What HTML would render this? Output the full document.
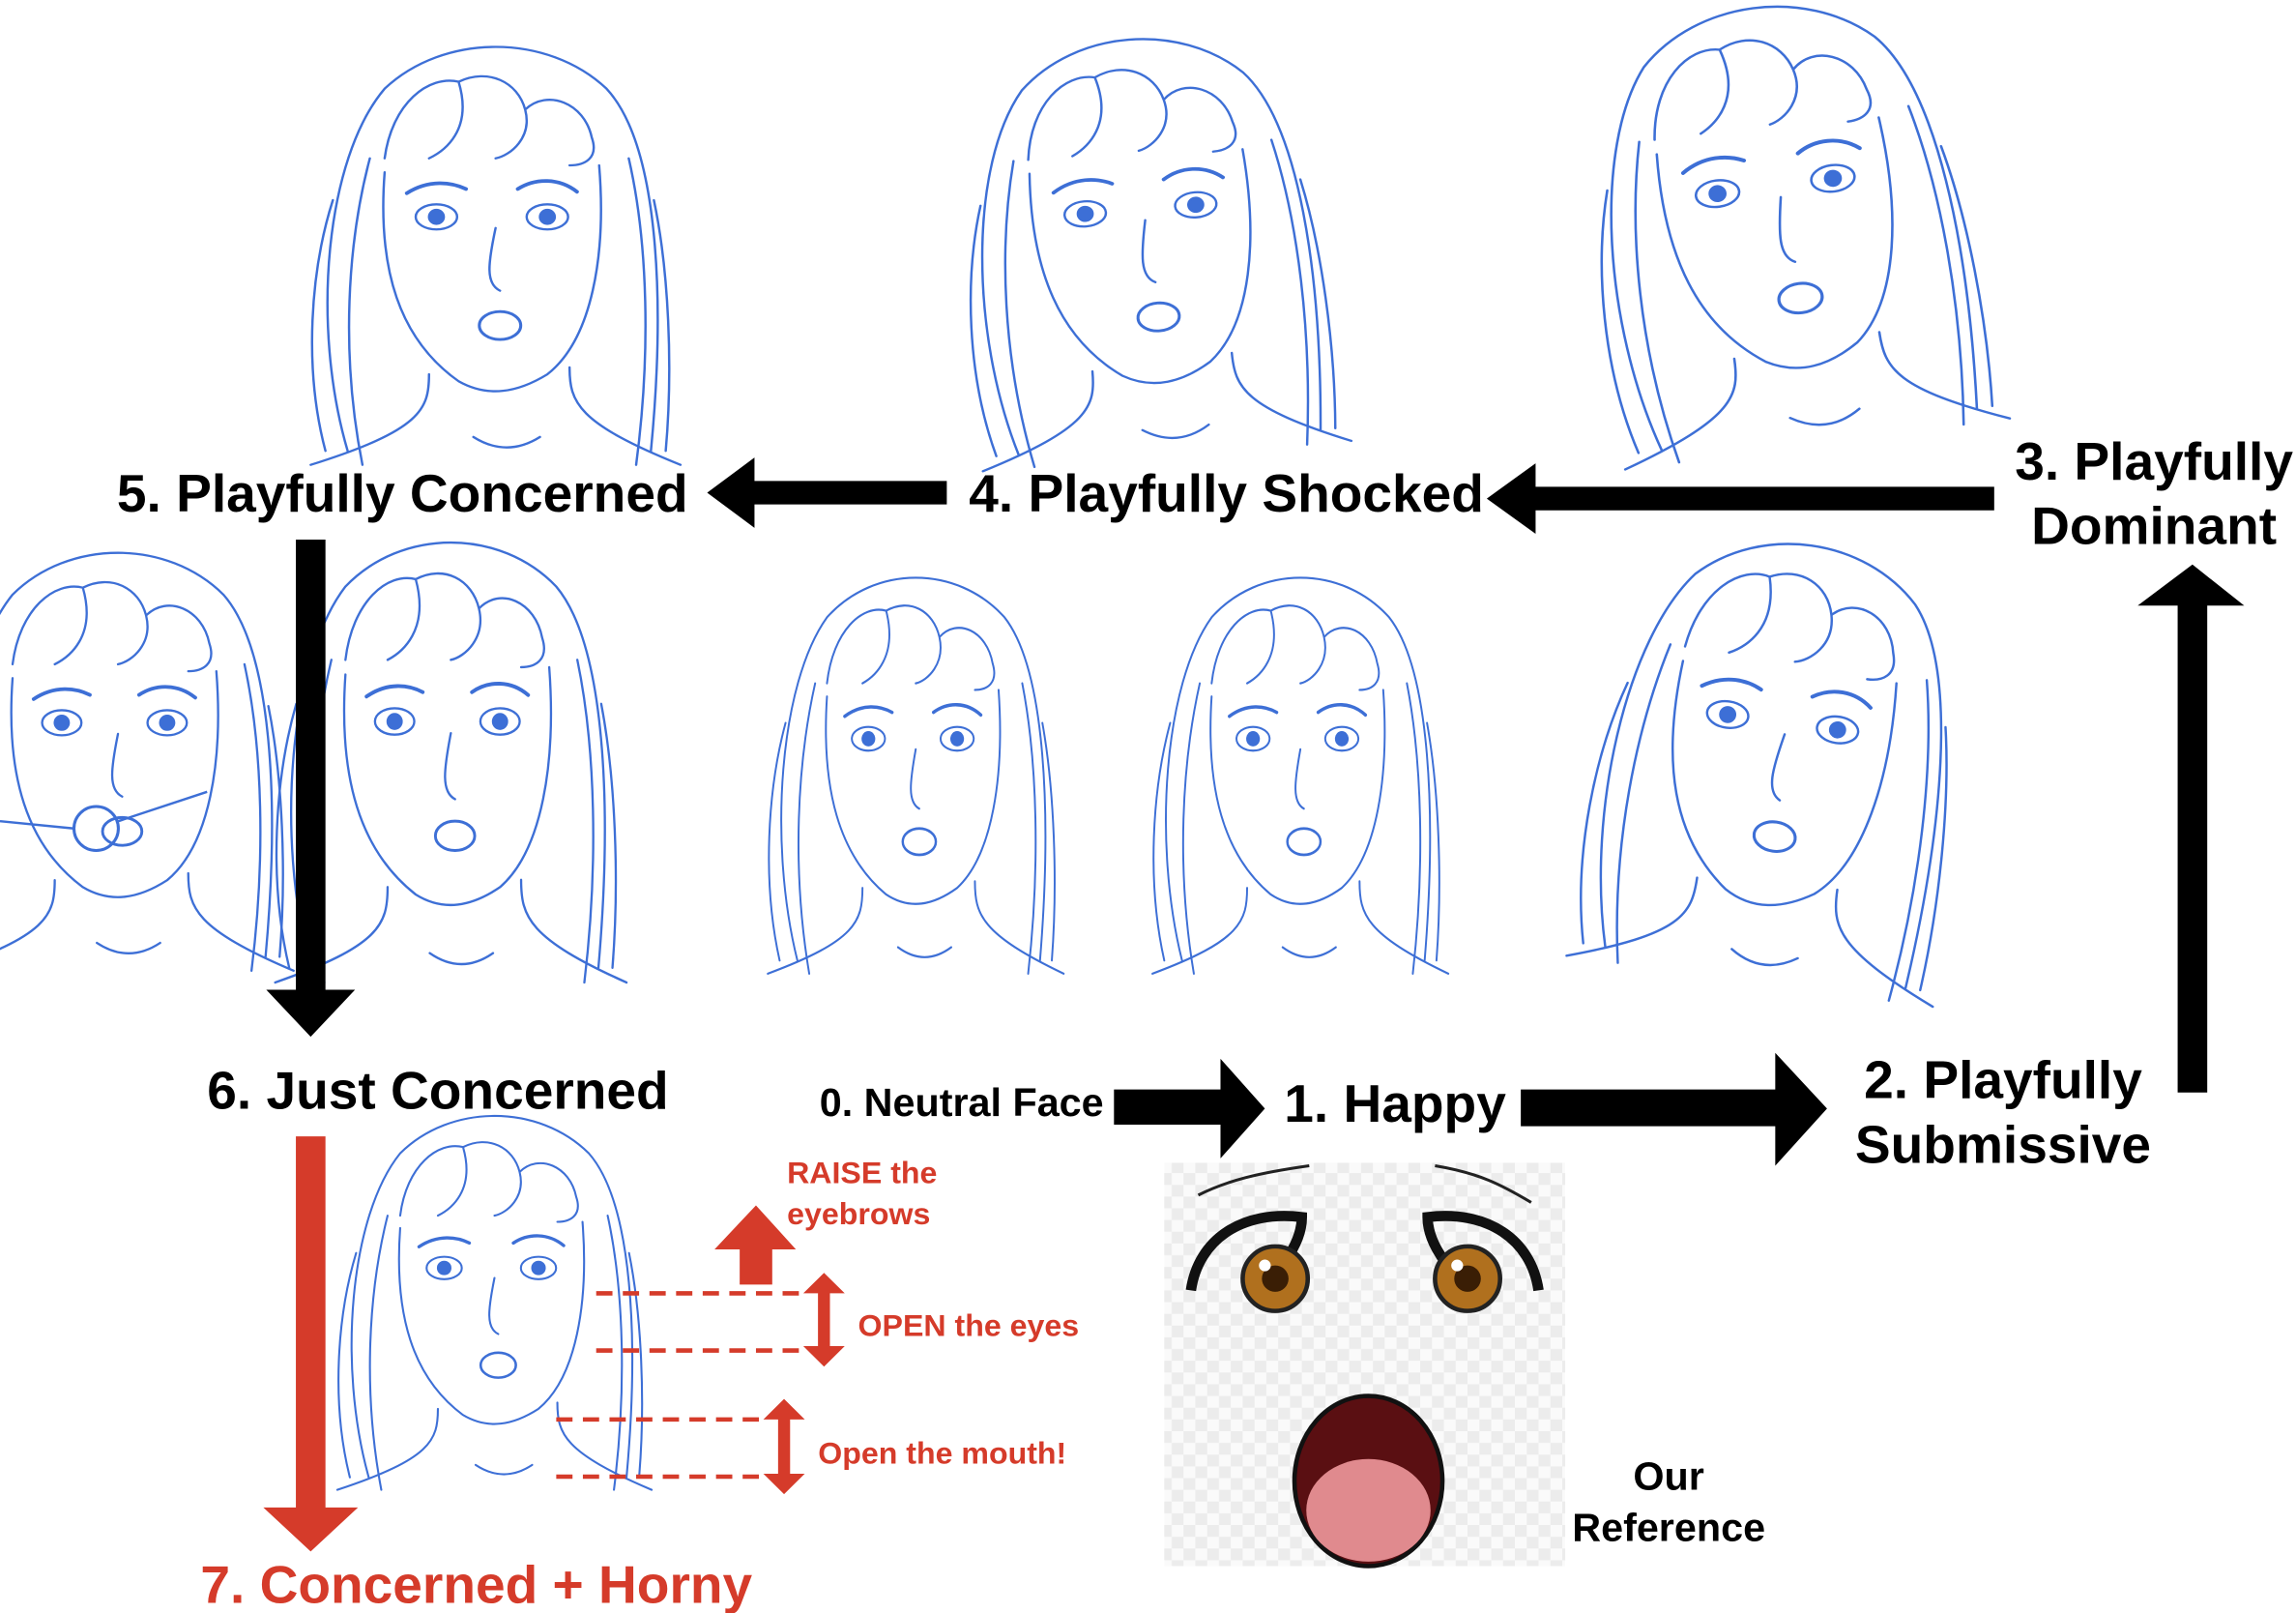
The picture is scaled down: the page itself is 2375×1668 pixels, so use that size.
<!DOCTYPE html>
<html><head><meta charset="utf-8"><style>
html,body{margin:0;padding:0;background:#fff;}
svg{display:block}
text{font-family:"Liberation Sans",Arial,sans-serif;font-weight:bold;}
</style></head><body>
<svg width="2375" height="1668" viewBox="0 0 1552 1100" preserveAspectRatio="none" xmlns="http://www.w3.org/2000/svg">
<defs>
<pattern id="chk" width="16" height="16" patternUnits="userSpaceOnUse">
<rect width="16" height="16" fill="#fafafa"/><rect width="8" height="8" fill="#ececec"/><rect x="8" y="8" width="8" height="8" fill="#ececec"/>
</pattern>
<g id="face" fill="none" stroke="#3d6fd6" stroke-width="1.6" stroke-linecap="round">
<path d="M-95,150 C-120,60 -110,-60 -70,-110 C-30,-150 40,-150 80,-110 C115,-70 120,40 110,150"/>
<path d="M-85,160 C-100,80 -95,0 -80,-60"/><path d="M100,160 C110,80 108,0 95,-60"/>
<path d="M-110,150 C-125,90 -120,20 -105,-30"/><path d="M120,150 C125,90 122,20 112,-30"/>
<path d="M-70,-60 C-65,-100 -40,-120 -20,-115 M-20,-115 C-10,-80 -30,-65 -40,-60 M-20,-115 C0,-125 20,-115 25,-95 M25,-95 C30,-75 15,-62 5,-60 M25,-95 C40,-110 65,-100 70,-75 M70,-75 C75,-60 65,-55 55,-55"/>
<path d="M-70,-50 C-75,20 -60,70 -20,100 C0,112 20,108 40,95 C70,70 80,10 75,-55"/>
<path d="M-55,-35 C-40,-45 -25,-43 -15,-38 M20,-38 C32,-46 48,-46 60,-36" stroke-width="2.6"/>
<ellipse cx="-35" cy="-18" rx="14" ry="9"/><circle cx="-35" cy="-18" r="5" fill="#3d6fd6"/>
<ellipse cx="40" cy="-18" rx="14" ry="9"/><circle cx="40" cy="-18" r="5" fill="#3d6fd6"/>
<path d="M5,-10 C0,15 -2,30 8,35"/>
<ellipse cx="8" cy="60" rx="14" ry="10" stroke-width="2"/>
<path d="M-40,95 C-40,120 -45,135 -120,160 M55,90 C55,115 60,130 130,160 M-10,140 C5,150 20,150 35,140"/>
</g>
</defs>
<rect width="1552" height="1100" fill="#fff"/>

<use href="#face" transform="translate(330,165) scale(1.0,0.95)"/>
<use href="#face" transform="translate(770,160) scale(1.0,0.95) rotate(-5)"/>
<use href="#face" transform="translate(1200,145) scale(1.05,1.0) rotate(-8)"/>
<use href="#face" transform="translate(75,510) scale(0.95,0.95)"/>
<use href="#face" transform="translate(300,510) scale(0.95,1.0)"/>
<use href="#face" transform="translate(615,520) scale(0.8,0.9)"/>
<use href="#face" transform="translate(875,520) scale(0.8,0.9)"/>
<use href="#face" transform="translate(1200,510) scale(1.0,1.0) rotate(8)"/>
<use href="#face" transform="translate(330,880) scale(0.85,0.85)"/>
<circle cx="65" cy="565" r="15" fill="none" stroke="#3d6fd6" stroke-width="2"/>
<path d="M0,560 L50,565 M80,560 L140,540" stroke="#3d6fd6" stroke-width="1.6" fill="none"/>

<rect x="787" y="793" width="271" height="275" fill="url(#chk)"/>
<g>
<path d="M805,880 C810,845 840,825 880,830 C880,845 870,860 860,870" fill="none" stroke="#111" stroke-width="7"/>
<circle cx="862" cy="872" r="22" fill="#b0701e" stroke="#222" stroke-width="3"/><circle cx="862" cy="872" r="9" fill="#3a1e05"/><circle cx="855" cy="863" r="4" fill="#fff"/>
<path d="M1040,880 C1035,845 1005,825 965,830 C965,845 975,860 985,870" fill="none" stroke="#111" stroke-width="7"/>
<circle cx="992" cy="872" r="22" fill="#b0701e" stroke="#222" stroke-width="3"/><circle cx="992" cy="872" r="9" fill="#3a1e05"/><circle cx="985" cy="863" r="4" fill="#fff"/>
<path d="M810,815 C830,805 850,800 885,795 M970,795 C1000,800 1015,808 1035,820" stroke="#222" stroke-width="2" fill="none"/>
<ellipse cx="925" cy="1010" rx="50" ry="58" fill="#5a0f12" stroke="#111" stroke-width="3"/>
<ellipse cx="925" cy="1030" rx="42" ry="35" fill="#e08a8e"/>
</g>

<g fill="#000">
<polygon points="640,328 510,328 510,312 478,336 510,360 510,344 640,344"/>
<polygon points="1348,332 1038,332 1038,316 1005,340 1038,364 1038,348 1348,348"/>
<polygon points="1472,745 1472,413 1445,413 1482,385 1517,413 1492,413 1492,745"/>
<polygon points="1028,743 1200,743 1200,718 1235,756 1200,795 1200,768 1028,768"/>
<polygon points="753,743 825,743 825,722 855,756 825,790 825,767 753,767"/>
<polygon points="200,368 220,368 220,675 240,675 210,707 180,675 200,675"/>
</g>
<g fill="#d53b2a">
<polygon points="200,775 220,775 220,1028 242,1028 210,1058 178,1028 200,1028"/>
<polygon points="500,876 522,876 522,852 538,852 511,822 483,852 500,852"/>
<polygon points="553,882 561,882 561,918 571,918 557,932 543,918 553,918"/>
<polygon points="553,918 561,918 561,882 571,882 557,868 543,882 553,882"/>
<polygon points="526,968 534,968 534,1005 544,1005 530,1019 516,1005 526,1005"/>
<polygon points="526,1005 534,1005 534,968 544,968 530,954 516,968 526,968"/>
</g>
<g stroke="#d53b2a" stroke-width="3" stroke-dasharray="11,7">
<line x1="403" y1="882" x2="545" y2="882"/><line x1="403" y1="921" x2="545" y2="921"/>
<line x1="376" y1="968" x2="518" y2="968"/><line x1="376" y1="1007" x2="518" y2="1007"/>
</g>

<g font-size="36" fill="#000">
<text x="272" y="349" text-anchor="middle">5. Playfully Concerned</text>
<text x="829" y="349" text-anchor="middle">4. Playfully Shocked</text>
<text x="1456" y="327" text-anchor="middle">3. Playfully</text>
<text x="1456" y="371" text-anchor="middle">Dominant</text>
<text x="1354" y="749" text-anchor="middle">2. Playfully</text>
<text x="1354" y="793" text-anchor="middle">Submissive</text>
<text x="943" y="765" text-anchor="middle">1. Happy</text>
<text x="296" y="756" text-anchor="middle">6. Just Concerned</text>
</g>
<text x="650" y="761" text-anchor="middle" font-size="27" fill="#000">0. Neutral Face</text>
<text x="1128" y="1016" text-anchor="middle" font-size="27" fill="#000">Our</text>
<text x="1128" y="1051" text-anchor="middle" font-size="27" fill="#000">Reference</text>
<text x="322" y="1093" text-anchor="middle" font-size="36" fill="#d53b2a">7. Concerned + Horny</text>
<g font-size="21" fill="#d53b2a">
<text x="532" y="807">RAISE the</text>
<text x="532" y="835">eyebrows</text>
<text x="580" y="911">OPEN the eyes</text>
<text x="553" y="998">Open the mouth!</text>
</g>
</svg>
</body></html>
